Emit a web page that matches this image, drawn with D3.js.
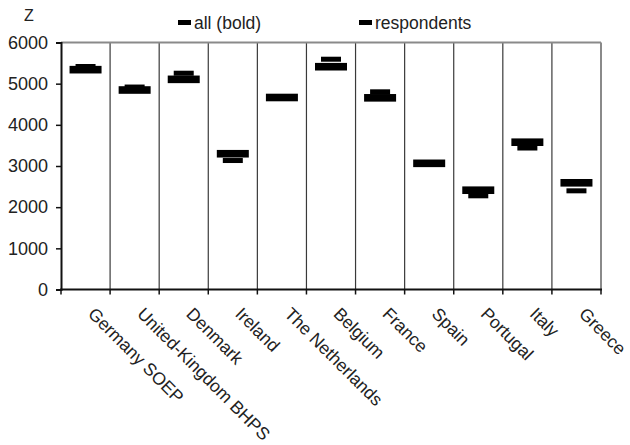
<!DOCTYPE html>
<html><head><meta charset="utf-8">
<script src="https://cdn.jsdelivr.net/npm/d3@7"></script>
<style>body{margin:0;background:#fff}svg{display:block}text{font-family:"Liberation Sans",Arial,sans-serif;fill:#222}</style>
</head><body>
<svg id="c" width="630" height="445"></svg>
<script>
const categories = ["Germany SOEP","United-Kingdom BHPS","Denmark","Ireland","The Netherlands","Belgium","France","Spain","Portugal","Italy","Greece"];
const allValues = [5340, 4846, 5105, 3298, 4664, 5412, 4656, 3065, 2412, 3578, 2592];
const respondentValues = [5417, 4918, 5254, 3133, 4664, 5594, 4802, 3065, 2276, 3437, 2397];
const yTicks = [0,1000,2000,3000,4000,5000,6000];
const seriesNames = ["all (bold)", "respondents"];

const svg = d3.select("#c");
const L=61, R=601, T=42.5, B=289.5;
const x = d3.scaleBand().domain(categories).range([L,R]).padding(0);
const y = d3.scaleLinear().domain([0,6000]).range([B,T]);

// vertical gridlines at category boundaries
const bounds = categories.map(c=>x(c)).slice(1);
svg.append("g").selectAll("line").data(bounds).join("line")
  .attr("x1",d=>d).attr("x2",d=>d).attr("y1",T).attr("y2",B)
  .attr("stroke","#3a3a3a").attr("stroke-width",1.2);
// top & right border
svg.append("line").attr("x1",L).attr("x2",R).attr("y1",T).attr("y2",T).attr("stroke","#8a8a8a").attr("stroke-width",2);
svg.append("line").attr("x1",R).attr("x2",R).attr("y1",T).attr("y2",B).attr("stroke","#8a8a8a").attr("stroke-width",2);

// y axis
const yAxis = d3.axisLeft(y).tickValues(yTicks).tickSize(5).tickPadding(8).tickFormat(d3.format("d"));
const gy = svg.append("g").attr("transform",`translate(${L},0)`).call(yAxis);
gy.select(".domain").attr("stroke","#111").attr("stroke-width",2);
gy.selectAll(".tick line").attr("stroke","#111").attr("stroke-width",1.5);
gy.selectAll(".tick text").style("font-size","18px").attr("fill","#222").style("font-family","'Liberation Sans',Arial,sans-serif");

// x axis with ticks at boundaries
const edges = [L].concat(bounds,[R]);
svg.append("line").attr("x1",L-1).attr("x2",R+1).attr("y1",B).attr("y2",B).attr("stroke","#111").attr("stroke-width",2);
svg.append("g").selectAll("line").data(edges).join("line")
  .attr("x1",d=>d).attr("x2",d=>d).attr("y1",B).attr("y2",B+5)
  .attr("stroke","#111").attr("stroke-width",1.5);

// category labels
svg.append("g").selectAll("text").data(categories).join("text")
  .attr("transform",d=>`translate(${x(d)+x.bandwidth()/2+1.5},315) rotate(45)`)
  .attr("text-anchor","start").style("font-size","17.6px").text(d=>d);

// respondents marks (narrow)
const cx = d=>x(d)+x.bandwidth()/2;
svg.append("g").selectAll("rect").data(categories).join("rect")
  .attr("x",(d)=>cx(d)-10).attr("width",20)
  .attr("y",(d,i)=>y(respondentValues[i])-2.5).attr("height",5).attr("fill","#000");
// all marks (bold)
svg.append("g").selectAll("rect").data(categories).join("rect")
  .attr("x",(d)=>cx(d)-16).attr("width",32)
  .attr("y",(d,i)=>y(allValues[i])-3.8).attr("height",7.6).attr("fill","#000");

// Z label
svg.append("text").attr("x",24).attr("y",21).style("font-size","16px").text("Z");

// legend
const leg = [{name:seriesNames[0],x:178},{name:seriesNames[1],x:359}];
leg.forEach(l=>{
  svg.append("rect").attr("x",l.x).attr("y",20).attr("width",13).attr("height",5).attr("fill","#000");
  svg.append("text").attr("x",l.x+16).attr("y",28.5).style("font-size","17.5px").text(l.name);
});
</script>
</body></html>
